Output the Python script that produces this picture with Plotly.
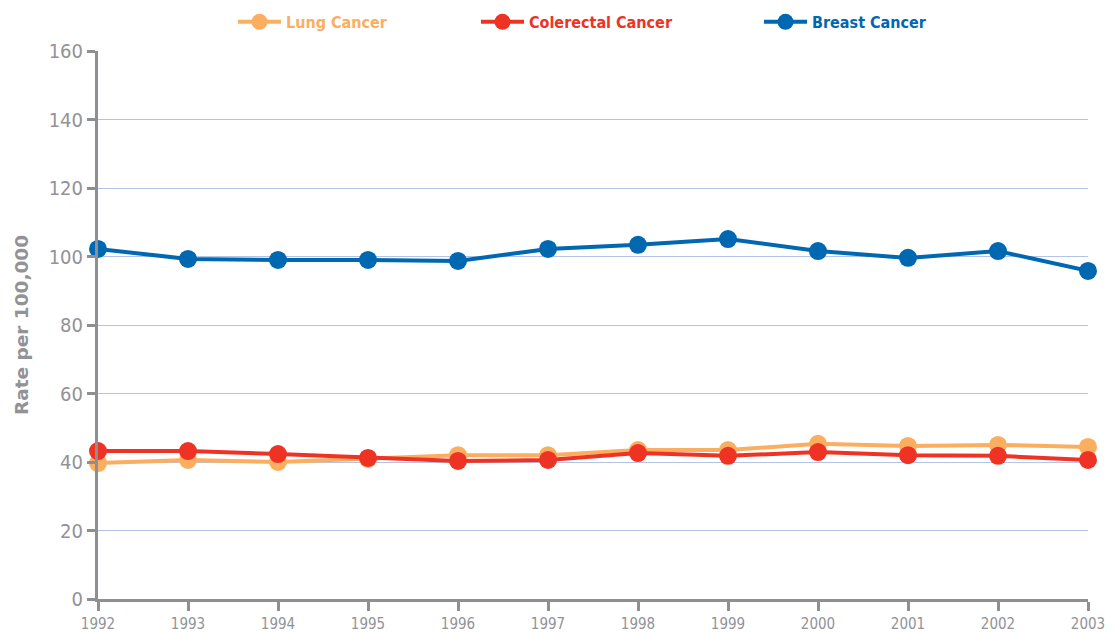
import plotly.graph_objects as go

years = [1992, 1993, 1994, 1995, 1996, 1997, 1998, 1999, 2000, 2001, 2002, 2003]
lung = [39.7, 40.6, 40.0, 40.9, 42.0, 42.0, 43.5, 43.5, 45.3, 44.7, 45.0, 44.4]
colorectal = [43.2, 43.2, 42.3, 41.2, 40.3, 40.6, 42.6, 41.8, 42.9, 42.0, 41.8, 40.6]
breast = [102.2, 99.3, 99.0, 99.0, 98.7, 102.2, 103.4, 105.1, 101.6, 99.6, 101.6, 95.8]

# name, values, colour, legend id, legend x position (paper coords)
series = [
    ("Lung Cancer", lung, "#FBAE5F", "legend", 0.1364),
    ("Colerectal Cancer", colorectal, "#EE3325", "legend2", 0.3818),
    ("Breast Cancer", breast, "#0067B1", "legend3", 0.6677),
]

AXIS_GRAY = "#8E8E93"
TEXT_GRAY = "#929297"
TICK_FONT = "DejaVu Sans Condensed, DejaVu Sans, sans-serif"

fig = go.Figure()
legend_layout = {}
for name, values, color, legend_id, lx in series:
    fig.add_trace(go.Scatter(
        x=years,
        y=values,
        mode="lines+markers",
        name=f"<b>{name}</b>",
        legend=legend_id,
        line=dict(color=color, width=4),
        marker=dict(color=color, size=18),
        cliponaxis=False,
    ))
    legend_layout[legend_id] = dict(
        orientation="h",
        x=lx, xanchor="left",
        y=1.053, yanchor="middle",
        font=dict(family=TICK_FONT, size=16, color=color),
        itemwidth=43,
        bgcolor="rgba(0,0,0,0)",
    )

fig.update_layout(
    width=1114,
    height=632,
    margin=dict(l=98, r=26, t=51, b=33, autoexpand=False),
    paper_bgcolor="white",
    plot_bgcolor="white",
    showlegend=True,
    **legend_layout,
    xaxis=dict(
        range=[1992, 2003],
        tickmode="array",
        tickvals=years,
        ticktext=[str(y) for y in years],
        showgrid=False,
        zeroline=False,
        showline=True,
        linecolor=AXIS_GRAY,
        linewidth=3,
        ticks="outside",
        ticklen=9,
        tickwidth=3,
        tickcolor=AXIS_GRAY,
        tickfont=dict(family=TICK_FONT, size=15, color=TEXT_GRAY),
    ),
    yaxis=dict(
        range=[0, 160],
        dtick=20,
        showgrid=True,
        gridcolor="#B3C5E6",
        gridwidth=1,
        zeroline=False,
        showline=True,
        linecolor=AXIS_GRAY,
        linewidth=3,
        ticks="outside",
        ticklen=8,
        tickwidth=3,
        tickcolor=AXIS_GRAY,
        tickfont=dict(family=TICK_FONT, size=20, color=TEXT_GRAY),
        title=dict(
            text="<b>Rate per 100,000</b>",
            font=dict(family="DejaVu Sans, sans-serif", size=18.5, color=TEXT_GRAY),
            standoff=16,
        ),
    ),
)

fig.write_html("out.html")
